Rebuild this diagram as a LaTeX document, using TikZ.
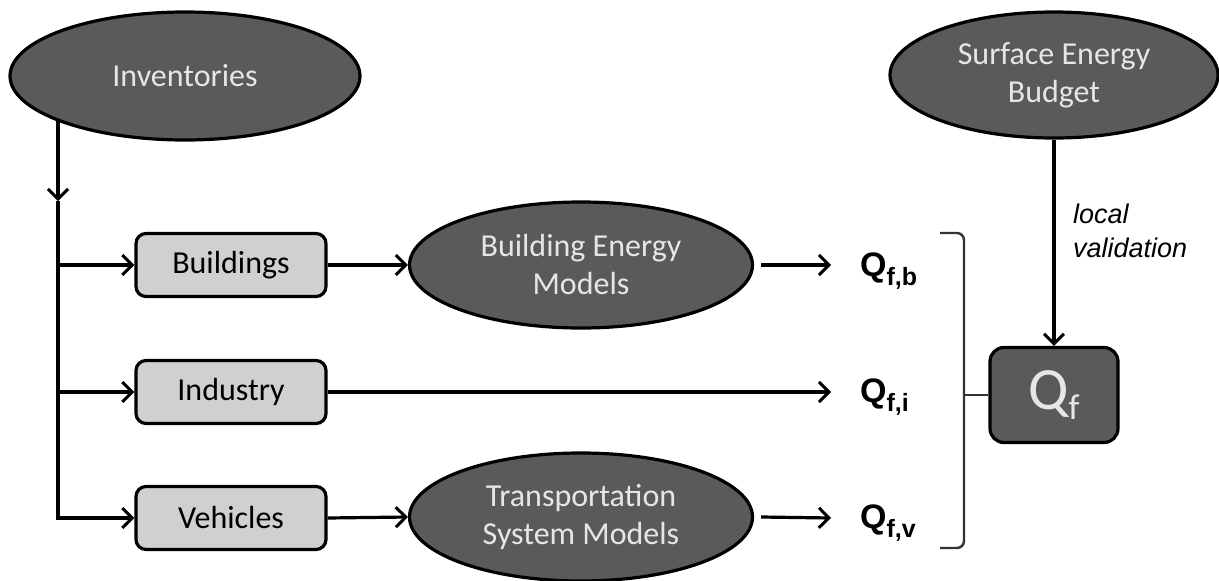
\documentclass[tikz,border=0pt]{standalone}
\usepackage{fontspec}
\setmainfont{Carlito}
\setsansfont{Liberation Sans}
\usetikzlibrary{shapes.geometric,arrows.meta}
\definecolor{darkfill}{HTML}{5A5A5A}
\definecolor{lightfill}{HTML}{D0D0D0}
\definecolor{paletext}{HTML}{E6E6E6}
\newcommand{\qlab}[1]{{\sffamily\bfseries\fontsize{34}{34}\selectfont Q\raisebox{-9pt}{\fontsize{25}{25}\selectfont f,#1}}}
\begin{document}
\begin{tikzpicture}[x=1pt,y=-1pt,
  darkoval/.style={ellipse,draw=black,line width=3.2pt,fill=darkfill,text=paletext,
    inner sep=0pt,font=\fontsize{32}{38}\selectfont,align=center},
  greybox/.style={rectangle,rounded corners=10pt,draw=black,line width=3.2pt,fill=lightfill,
    minimum width=190pt,minimum height=63pt,font=\fontsize{32}{36}\selectfont,inner sep=0pt},
  conn/.style={line width=3.2pt,-{Straight Barb[length=10pt,width=20pt,line width=3pt]}},
  plain/.style={line width=3.2pt},
  qtext/.style={anchor=west,inner sep=0pt}]
\useasboundingbox (0,0) rectangle (1219,581);
% ovals
\node[darkoval,minimum width=350pt,minimum height=128pt] (inv) at (185,76) {Inventories};
\node[darkoval,minimum width=328pt,minimum height=126pt] (seb) at (1054,75) {Surface Energy\\Budget};
\node[darkoval,minimum width=343pt,minimum height=126pt] (bem) at (581,265) {Building Energy\\Models};
\node[darkoval,minimum width=343pt,minimum height=128pt] (tsm) at (581,517) {Transportation\\System Models};
% boxes
\node[greybox] (bld) at (231,265) {Buildings};
\node[greybox] (ind) at (231,392) {Industry};
\node[greybox] (veh) at (231,518) {Vehicles};
% Qf box
\node[rectangle,rounded corners=14pt,draw=black,line width=3.2pt,fill=darkfill,text=paletext,
  minimum width=128pt,minimum height=95pt,inner sep=0pt] (qf) at (1054,395)
  {\fontsize{60}{60}\selectfont Q\raisebox{-10pt}{\fontsize{36}{36}\selectfont f}};
% Q labels
\node[qtext] (qb) at (860,271) {\qlab{b}};
\node[qtext] (qi) at (860,397) {\qlab{i}};
\node[qtext] (qv) at (860,523) {\qlab{v}};
% arrow ends
\coordinate (eb) at (831,265);
\coordinate (ei) at (831,392);
\coordinate (ev) at (831,518);
% trunk
\coordinate (tk) at (58,201);
\coordinate (tkb) at (58,265);
\coordinate (tki) at (58,392);
\coordinate (tkv) at (58,518);
\draw[conn] (inv.199 -| tk) -- (tk);
\draw[plain] (tk) -- ([yshift=-1.6pt]tkv);
\draw[conn] (tkb) -- (bld.west);
\draw[conn] (tki) -- (ind.west);
\draw[conn] (tkv) -- (veh.west);
\draw[conn] (bld.east) -- (bem.west);
\draw[conn] (veh.east) -- (tsm.west);
\draw[conn] ([xshift=7pt]bem.east) -- (eb);
\draw[conn] (ind.east) -- (ei);
\draw[conn] ([xshift=7pt]tsm.east) -- (ev);
% bracket
\coordinate (brt) at (940,233);
\coordinate (brb) at (940,548);
\draw[line width=2.4pt,draw=black!80,rounded corners=7pt] (brt) -- (964,233) -- (964,548) -- (brb);
\draw[line width=2.4pt,draw=black!80] (964,395) -- (qf.west);
% validation
\draw[conn] (seb.south) -- (qf.north);
\node[anchor=north west,inner sep=0pt,align=left,font=\sffamily\itshape\fontsize{27}{34}\selectfont] (lv) at (1073,204) {local\\validation};
\end{tikzpicture}
\end{document}
